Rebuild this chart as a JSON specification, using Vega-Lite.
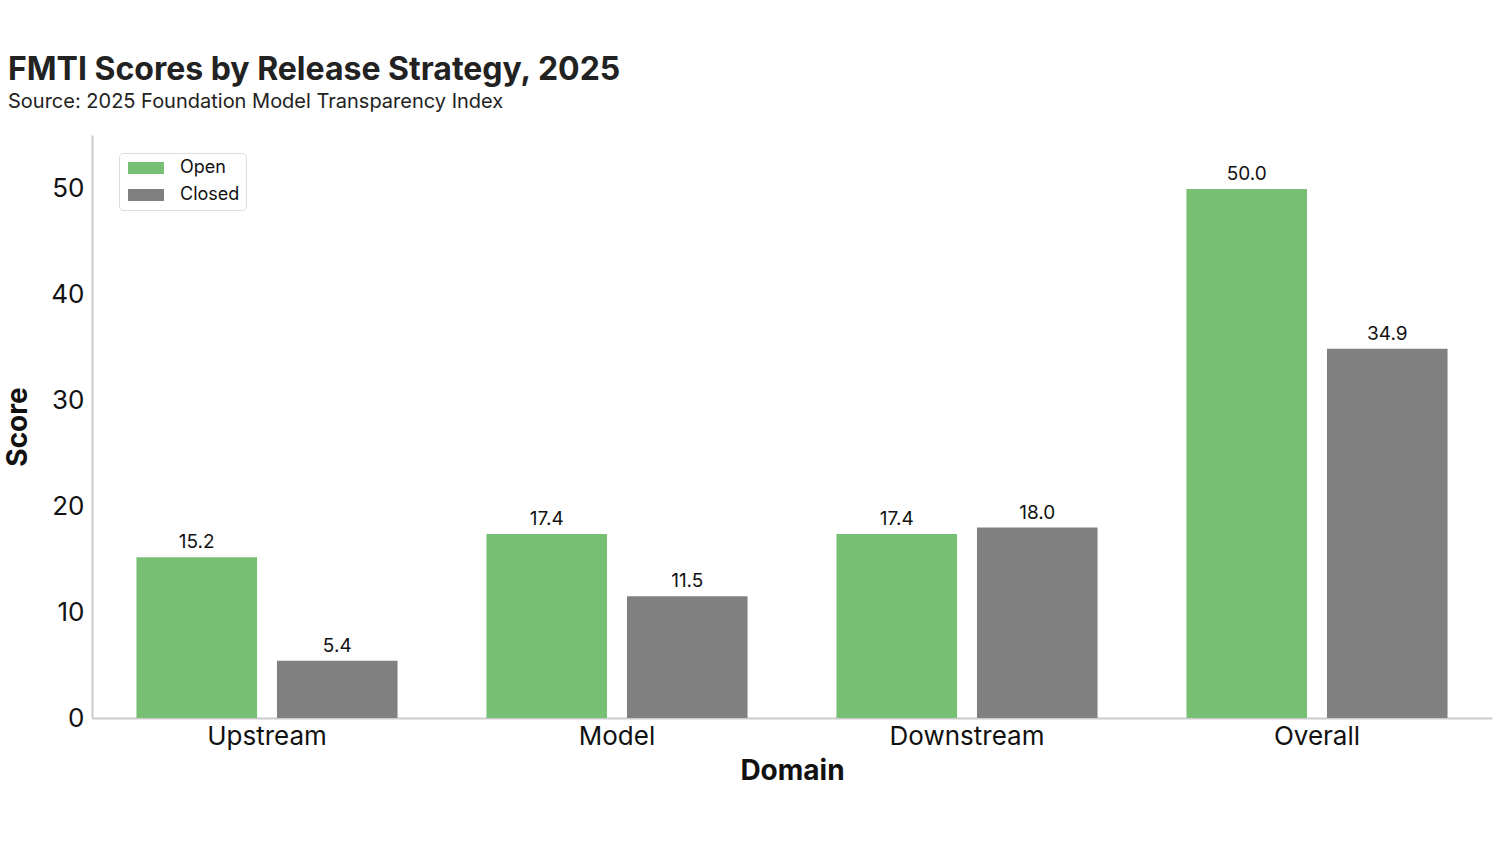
{
  "$schema": "https://vega.github.io/schema/vega-lite/v6.json",
  "autosize": {"type": "none"},
  "width": 1400,
  "height": 583,
  "padding": {"left": 92, "top": 135, "right": 8, "bottom": 127},
  "background": "white",
  "config": {"view": {"stroke": null}},
  "title": {
    "text": "FMTI Scores by Release Strategy, 2025",
    "subtitle": "Source: 2025 Foundation Model Transparency Index",
    "anchor": "start",
    "frame": "group",
    "dx": -84,
    "offset": 22,
    "font": "Inter",
    "fontSize": 32,
    "fontWeight": "bold",
    "color": "#222222",
    "subtitleFont": "Inter",
    "subtitleFontSize": 20,
    "subtitleColor": "#222222",
    "subtitlePadding": 5
  },
  "data": {
    "values": [
      {"domain": "Upstream", "strategy": "Open", "score": 15.2},
      {"domain": "Upstream", "strategy": "Closed", "score": 5.4},
      {"domain": "Model", "strategy": "Open", "score": 17.4},
      {"domain": "Model", "strategy": "Closed", "score": 11.5},
      {"domain": "Downstream", "strategy": "Open", "score": 17.4},
      {"domain": "Downstream", "strategy": "Closed", "score": 18.0},
      {"domain": "Overall", "strategy": "Open", "score": 50.0},
      {"domain": "Overall", "strategy": "Closed", "score": 34.9}
    ]
  },
  "encoding": {
    "x": {
      "field": "domain",
      "type": "nominal",
      "sort": ["Upstream", "Model", "Downstream", "Overall"],
      "scale": {"paddingInner": 0.254, "paddingOuter": 0.127},
      "axis": {
        "title": "Domain",
        "labelAngle": 0,
        "labelFont": "Inter",
        "labelFontSize": 26,
        "labelColor": "#111111",
        "labelPadding": 5,
        "ticks": false,
        "domainColor": "#cccccc",
        "domainWidth": 2,
        "titleFont": "Inter",
        "titleFontSize": 28,
        "titleFontWeight": "bold",
        "titleColor": "#111111",
        "titlePadding": 8
      }
    },
    "xOffset": {
      "field": "strategy",
      "type": "nominal",
      "sort": ["Open", "Closed"],
      "scale": {"paddingInner": 0.142, "paddingOuter": 0}
    },
    "y": {
      "field": "score",
      "type": "quantitative",
      "scale": {"domain": [0, 55.1], "nice": false},
      "axis": {
        "title": "Score",
        "values": [0, 10, 20, 30, 40, 50],
        "grid": false,
        "ticks": false,
        "labelFont": "Inter",
        "labelFontSize": 26,
        "labelColor": "#111111",
        "labelPadding": 8,
        "domainColor": "#cccccc",
        "domainWidth": 2,
        "titleFont": "Inter",
        "titleFontSize": 28,
        "titleFontWeight": "bold",
        "titleColor": "#111111",
        "titlePadding": 18
      }
    }
  },
  "layer": [
    {
      "mark": {"type": "bar"},
      "encoding": {
        "color": {
          "field": "strategy",
          "type": "nominal",
          "sort": ["Open", "Closed"],
          "scale": {"domain": ["Open", "Closed"], "range": ["#77bf73", "#808080"]},
          "legend": {
            "title": null,
            "orient": "none",
            "legendX": 27,
            "legendY": 18,
            "symbolType": "M-3,-1H3V1H-3Z",
            "symbolSize": 144,
            "symbolOffset": 12,
            "symbolStrokeWidth": 0,
            "labelFont": "Inter",
            "labelFontSize": 18,
            "labelColor": "#111111",
            "labelOffset": 25,
            "rowPadding": 9,
            "padding": 6,
            "strokeColor": "#dddddd",
            "cornerRadius": 4,
            "fillColor": "white"
          }
        }
      }
    },
    {
      "mark": {"type": "text", "dy": -15, "font": "Inter", "fontSize": 19, "color": "#111111"},
      "encoding": {
        "text": {"field": "score", "type": "quantitative", "format": ".1f"}
      }
    }
  ]
}
